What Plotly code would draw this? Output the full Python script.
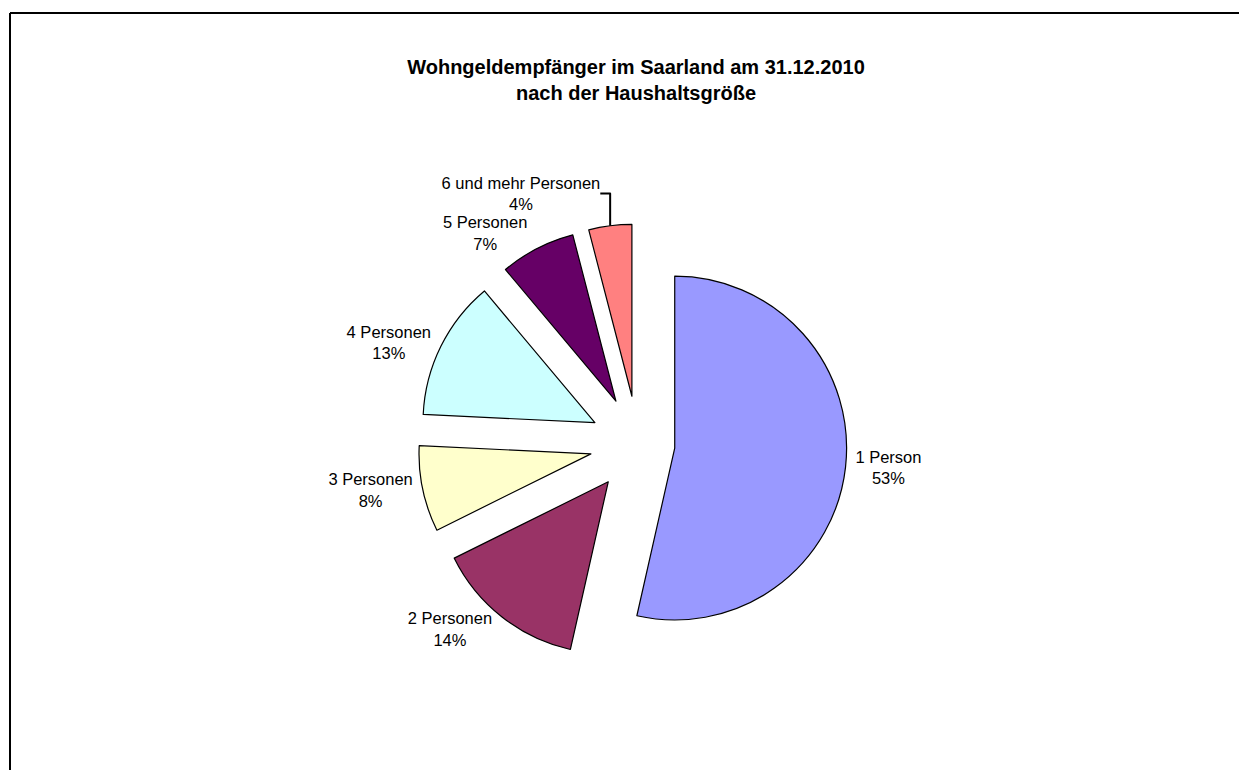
import plotly.graph_objects as go

categories = ["1 Person", "2 Personen", "3 Personen", "4 Personen", "5 Personen", "6 und mehr Personen"]
percent_values = [53, 14, 8, 13, 7, 4]
colors = ["#9999FF", "#993366", "#FFFFCC", "#CCFFFF", "#660066", "#FF8080"]
pulls = [0.215, 0.28, 0.28, 0.28, 0.28, 0.28]

# figure sized to fit the window after the 8px page margin
W, H = 1231, 762
cx, cy, half = 630, 436, 220

fig = go.Figure(go.Pie(
    labels=categories,
    values=percent_values,
    text=[f"{v}%" for v in percent_values],
    texttemplate="%{label}<br>%{text}",
    textposition="outside",
    sort=False,
    direction="clockwise",
    rotation=0,
    pull=pulls,
    marker=dict(colors=colors, line=dict(color="black", width=1.2)),
    outsidetextfont=dict(family="Liberation Sans, Arial", size=16.5, color="black"),
    domain=dict(x=[(cx - half) / W, (cx + half) / W], y=[1 - (cy + half) / H, 1 - (cy - half) / H]),
    showlegend=False,
    hoverinfo="label+text",
))

fig.update_layout(
    width=W, height=H,
    margin=dict(l=0, r=0, t=0, b=0),
    paper_bgcolor="white",
    plot_bgcolor="white",
    title=dict(
        text="<b>Wohngeldempfänger im Saarland am 31.12.2010<br>nach der Haushaltsgröße</b>",
        x=628 / W, xanchor="center",
        y=1 - 66 / H, yanchor="top", yref="container",
        font=dict(family="Liberation Sans, Arial", size=20, color="black"),
    ),
    shapes=[
        dict(type="line", xref="paper", yref="paper",
             x0=2 / W, x1=2 / W, y0=-0.05, y1=1 - 5 / H,
             line=dict(color="black", width=2)),
        dict(type="line", xref="paper", yref="paper",
             x0=2 / W, x1=1.05, y0=1 - 5 / H, y1=1 - 5 / H,
             line=dict(color="black", width=2)),
    ],
)

fig.write_html("out.html")
